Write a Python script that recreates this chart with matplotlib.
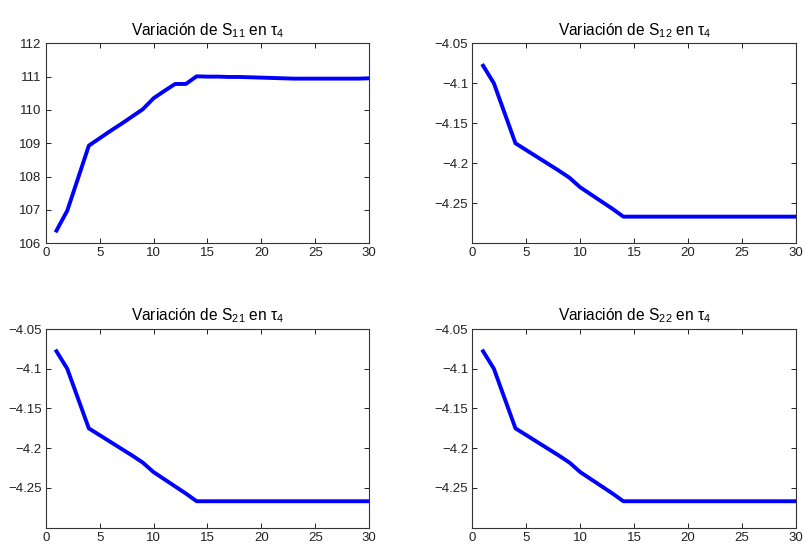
import matplotlib.pyplot as plt
import numpy as np

plt.rcParams["font.family"] = ["Liberation Sans", "DejaVu Sans"]
plt.rcParams["mathtext.fontset"] = "custom"
plt.rcParams["mathtext.rm"] = "Liberation Sans"
plt.rcParams["mathtext.it"] = "Liberation Sans:italic"

iteraciones = np.arange(1, 31)

s11 = [106.38, 106.98, 107.95, 108.93, 109.15, 109.37, 109.58, 109.80, 110.02, 110.35,
       110.57, 110.78, 110.78, 111.01, 111.00, 111.00, 110.99, 110.99, 110.98, 110.97,
       110.96, 110.95, 110.94, 110.94, 110.94, 110.94, 110.94, 110.94, 110.94, 110.95]
s12 = [-4.078, -4.100, -4.1375, -4.175, -4.1835, -4.192, -4.2005, -4.209, -4.218, -4.230,
       -4.239, -4.248, -4.257, -4.2667, -4.2667, -4.2667, -4.2667, -4.2667, -4.2667, -4.2667,
       -4.2667, -4.2667, -4.2667, -4.2667, -4.2667, -4.2667, -4.2667, -4.2667, -4.2667, -4.2667]
s21 = list(s12)
s22 = list(s12)

titulos = ["11", "12", "21", "22"]
series = [s11, s12, s21, s22]

posiciones = [
    [0.0567, 0.5544, 0.4013, 0.3663],
    [0.586, 0.5544, 0.4016, 0.3663],
    [0.0567, 0.0335, 0.4013, 0.3639],
    [0.586, 0.0335, 0.4016, 0.3639],
]


def main():
    fig = plt.figure(figsize=(8.06, 5.46), dpi=100)

    for pos, sub, datos in zip(posiciones, titulos, series):
        ax = fig.add_axes(pos)
        ax.plot(iteraciones, datos, color="#0000ff", linewidth=2.8)
        ax.set_xlim(0, 30)
        ax.set_xticks(range(0, 31, 5))
        if sub == "11":
            ax.set_ylim(106, 112)
            ax.set_yticks(range(106, 113))
        else:
            ax.set_ylim(-4.30, -4.05)
            ax.set_yticks([-4.25, -4.2, -4.15, -4.1, -4.05])
            ax.set_yticklabels(["\u22124.25", "\u22124.2", "\u22124.15", "\u22124.1", "\u22124.05"])
        ax.tick_params(direction="in", top=True, right=True, length=3.5,
                       width=0.7, labelsize=9.5, pad=3, colors="#222222")
        for sp in ax.spines.values():
            sp.set_linewidth(0.8)
            sp.set_color("#333333")
        ax.set_title("Variación de S$_{\\mathregular{%s}}$ en τ$_{\\mathregular{4}}$" % sub,
                     fontsize=11.2, pad=6)

    fig.savefig("out.png", dpi=100)


if __name__ == "__main__":
    main()
